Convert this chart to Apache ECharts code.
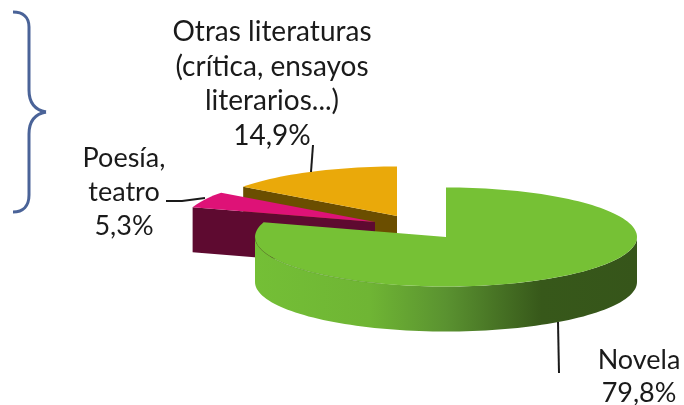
<!DOCTYPE html>
<html>
<head>
<meta charset="utf-8">
<style>html,body{margin:0;padding:0;background:#fff}#c{width:684px;height:405px}</style>
<script src="https://cdn.jsdelivr.net/npm/echarts@6/dist/echarts.min.js"></script>
</head>
<body>
<div id="c"></div>
<script>
// Values, in drawing order clockwise from 12 o'clock
const categories = ['Novela', 'Poesía,\nteatro', 'Otras literaturas\n(crítica, ensayos\nliterarios...)'];
const values = [79.8, 5.3, 14.9];

// Styling / layout (separate from the data)
const topColors = ['#76c135', '#de1277', '#eaa90a'];
const faceColors = ['#36571a', '#5e0a30', '#6b4e00'];
const centers = [[446, 237], [375, 222], [397, 216]];
const labelPos = [[639, 344], [124, 141], [272, 15]];
const labelFontSize = [27, 27, 28];
const labelLineHeight = [33, 34, 34.5];
const leaders = [
  [[558, 322], [559, 373]],
  [[205, 198], [182, 201], [166, 201]],
  [[311, 172], [313, 145]]
];
const RX = 191, RY = 49.5, DEPTH = 45;
const paintOrder = [2, 1, 0];

const total = values.reduce((a, b) => a + b, 0);
const starts = [];
values.reduce((acc, v, i) => { starts[i] = acc; return acc + v; }, 0);

function pt(c, deg, dy) {
  const t = deg * Math.PI / 180;
  return [c[0] + RX * Math.sin(t), c[1] - RY * Math.cos(t) + (dy || 0)];
}
function arc(c, a0, a1, dy) {
  const n = Math.max(2, Math.ceil(Math.abs(a1 - a0) / 2));
  const out = [];
  for (let i = 0; i <= n; i++) out.push(pt(c, a0 + (a1 - a0) * i / n, dy));
  return out;
}
function label(i) {
  const txt = categories[i] + '\n' + values[i].toFixed(1).replace('.', ',') + '%';
  return {
    type: 'text', z2: 20,
    style: {
      text: txt, x: labelPos[i][0], y: labelPos[i][1],
      font: labelFontSize[i] + 'px Lato, "Open Sans", sans-serif', fill: '#1a1a1a',
      align: 'center', verticalAlign: 'top', lineHeight: labelLineHeight[i]
    }
  };
}

function renderSlice(params, api) {
  const i = api.value(0);
  const v = api.value(1);
  const c = centers[i];
  const a0 = starts[i] / total * 360;
  const a1 = a0 + v / total * 360;
  const children = [];
  // back-left cut face seen from the front
  if (a0 > 180) {
    const top = [pt(c, a0), c.slice()];
    children.push({
      type: 'polygon',
      shape: { points: [top[0], top[1], [c[0], c[1] + DEPTH], [top[0][0], top[0][1] + DEPTH]] },
      style: { fill: faceColors[i] }
    });
  }
  // front wall
  const w0 = Math.max(a0, 90), w1 = Math.min(a1, 270);
  if (w1 > w0) {
    const upper = arc(c, w0, w1, 0);
    const lower = arc(c, w1, w0, DEPTH);
    children.push({
      type: 'polygon',
      shape: { points: upper.concat(lower) },
      style: {
        fill: new echarts.graphic.LinearGradient(1, 0, 0, 0, [
          { offset: 0, color: '#36551a' },
          { offset: 0.25, color: '#37581a' },
          { offset: 0.5, color: '#5a9230' },
          { offset: 0.7, color: '#6fb534' },
          { offset: 1, color: '#74bf36' }
        ])
      }
    });
  }
  // top face
  children.push({
    type: 'polygon',
    shape: { points: [c.slice()].concat(arc(c, a0, a1, 0)) },
    style: { fill: topColors[i] }
  });
  if (w1 > w0) {
    children.push({
      type: 'polyline',
      shape: { points: arc(c, 200, w1, 0) },
      style: { stroke: 'rgba(60,100,30,0.22)', lineWidth: 1, fill: null }
    });
  }
  // leader line
  children.push({
    type: 'polyline',
    shape: { points: leaders[i] },
    style: { stroke: '#1a1a1a', lineWidth: 2, fill: null }
  });
  children.push(label(i));
  return { type: 'group', children };
}

const braceStyle = { fill: null, stroke: '#4a6398', lineWidth: 3 };
const chart = echarts.init(document.getElementById('c'), null, { renderer: 'canvas' });
chart.setOption({
  animation: false,
  backgroundColor: '#fff',
  graphic: [
    { type: 'bezierCurve', silent: true, style: braceStyle, shape: { x1: 13, y1: 12, cpx1: 23, cpy1: 12, cpx2: 29, cpy2: 17, x2: 29, y2: 27 } },
    { type: 'line', silent: true, style: braceStyle, shape: { x1: 29, y1: 27, x2: 29, y2: 90 } },
    { type: 'bezierCurve', silent: true, style: braceStyle, shape: { x1: 29, y1: 90, cpx1: 29, cpy1: 103, cpx2: 35, cpy2: 110, x2: 46, y2: 112 } },
    { type: 'bezierCurve', silent: true, style: braceStyle, shape: { x1: 46, y1: 112, cpx1: 35, cpy1: 114, cpx2: 29, cpy2: 121, x2: 29, y2: 134 } },
    { type: 'line', silent: true, style: braceStyle, shape: { x1: 29, y1: 134, x2: 29, y2: 195 } },
    { type: 'bezierCurve', silent: true, style: braceStyle, shape: { x1: 29, y1: 195, cpx1: 29, cpy1: 206, cpx2: 23, cpy2: 212, x2: 13, y2: 212 } }
  ],
  series: [{
    type: 'custom',
    coordinateSystem: 'none',
    silent: true,
    renderItem: renderSlice,
    data: paintOrder.map(i => [i, values[i]])
  }]
});
</script>
</body>
</html>
